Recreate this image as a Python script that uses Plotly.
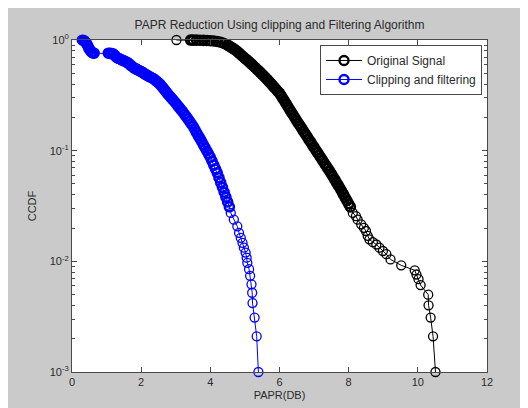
import plotly.graph_objects as go

# ---------------- data ----------------
orig_papr = [3.02, 3.43, 3.50, 3.60, 3.70, 3.80, 3.90, 4.00, 4.10, 4.20, 4.30, 4.40, 4.50,
             4.55, 4.60, 4.65, 4.70, 4.75, 4.80, 4.85, 4.90, 4.95, 5.00,
             5.05, 5.10, 5.15, 5.20, 5.25, 5.30, 5.35, 5.40, 5.45, 5.50,
             5.55, 5.60, 5.65, 5.70, 5.75, 5.80, 5.85, 5.90, 5.95, 6.00,
             6.05, 6.10, 6.15, 6.20, 6.25, 6.30, 6.35, 6.40, 6.45, 6.50,
             6.55, 6.60, 6.65, 6.70, 6.75, 6.80, 6.85, 6.90, 6.95, 7.00,
             7.05, 7.10, 7.15, 7.20, 7.25, 7.30, 7.35, 7.40, 7.45, 7.50,
             7.55, 7.60, 7.65, 7.70, 7.75, 7.80, 7.85, 7.90, 7.95, 8.00, 8.05,
             8.12, 8.21, 8.26, 8.36, 8.44, 8.50, 8.55, 8.60, 8.70, 8.80,
             8.89, 8.99, 9.09, 9.21, 9.52, 9.91, 9.96, 10.02, 10.08, 10.30,
             10.31, 10.37, 10.44, 10.51]
orig_ccdf = [1.0, 0.999, 0.998, 0.997, 0.995, 0.993, 0.990, 0.986, 0.980, 0.970, 0.955, 0.930, 0.900,
             0.881, 0.861, 0.841, 0.822, 0.800, 0.776, 0.752, 0.728, 0.706, 0.684,
             0.664, 0.643, 0.622, 0.603, 0.582, 0.562, 0.543, 0.525, 0.507, 0.490,
             0.472, 0.455, 0.438, 0.421, 0.405, 0.389, 0.373, 0.359, 0.344, 0.331,
             0.313, 0.295, 0.279, 0.263, 0.248, 0.234, 0.221, 0.209, 0.197, 0.186,
             0.176, 0.167, 0.158, 0.149, 0.141, 0.134, 0.126, 0.120, 0.113, 0.107,
             0.101, 0.0959, 0.0908, 0.0859, 0.0813, 0.0769, 0.0728, 0.0689, 0.0652, 0.0617,
             0.0581, 0.0547, 0.0515, 0.0485, 0.0457, 0.0429, 0.0402, 0.0377, 0.0353, 0.0331, 0.0310,
             0.0274, 0.0256, 0.0238, 0.0216, 0.0201, 0.0188, 0.0170, 0.0158, 0.0149, 0.0142,
             0.0133, 0.0124, 0.0116, 0.0104, 0.0092, 0.0083, 0.0076, 0.0069, 0.0061, 0.0050,
             0.0040, 0.0031, 0.0021, 0.0010]

clip_papr = [0.28, 0.32, 0.36, 0.40, 0.43, 0.46, 0.49, 0.52, 0.56, 0.60, 0.64,
             1.05, 1.10, 1.15, 1.20, 1.25, 1.30, 1.35, 1.40, 1.45, 1.50,
             1.55, 1.60, 1.65, 1.70, 1.75, 1.80, 1.85, 1.90, 1.95, 2.00,
             2.05, 2.10, 2.15, 2.20, 2.25, 2.30, 2.35, 2.40, 2.45, 2.50,
             2.55, 2.60, 2.65, 2.70, 2.75, 2.80, 2.85, 2.90, 2.95, 3.00,
             3.05, 3.10, 3.15, 3.20, 3.25, 3.30, 3.35, 3.40, 3.45, 3.50,
             3.55, 3.60, 3.65, 3.70, 3.75, 3.80, 3.85, 3.90, 3.95, 4.00,
             4.05, 4.10, 4.15, 4.20, 4.25, 4.30, 4.35, 4.40, 4.45, 4.50, 4.55,
             4.59, 4.68, 4.78, 4.83, 4.88, 4.93, 4.97, 5.02, 5.05, 5.07,
             5.12, 5.15, 5.19, 5.21, 5.22, 5.28, 5.34, 5.39]
clip_ccdf = [1.0, 0.995, 0.98, 0.95, 0.92, 0.88, 0.84, 0.81, 0.78, 0.765, 0.76,
             0.760, 0.757, 0.753, 0.746, 0.719, 0.692, 0.681, 0.670, 0.659, 0.649,
             0.638, 0.627, 0.608, 0.590, 0.573, 0.558, 0.548, 0.538, 0.528, 0.518,
             0.507, 0.495, 0.485, 0.474, 0.465, 0.456, 0.449, 0.436, 0.423, 0.410,
             0.398, 0.380, 0.363, 0.347, 0.331, 0.318, 0.305, 0.292, 0.281, 0.269,
             0.257, 0.246, 0.235, 0.225, 0.214, 0.204, 0.194, 0.184, 0.175, 0.166,
             0.156, 0.146, 0.137, 0.129, 0.121, 0.113, 0.106, 0.0993, 0.0931, 0.0871,
             0.0804, 0.0741, 0.0684, 0.0631, 0.0570, 0.0515, 0.0466, 0.0421, 0.0380, 0.0344, 0.0311,
             0.0274, 0.0238, 0.0207, 0.0181, 0.0163, 0.0147, 0.0133, 0.0120, 0.0108, 0.0097,
             0.0085, 0.0074, 0.0062, 0.0052, 0.0042, 0.0031, 0.0021, 0.0010]

x_ticks = [0, 2, 4, 6, 8, 10, 12]
y_ticks = [1, 0.1, 0.01, 0.001]
y_ticktext = ["10<sup>0</sup>", "10<sup>-1</sup>", "10<sup>-2</sup>", "10<sup>-3</sup>"]

# ---------------- figure ----------------
FONT = "Liberation Sans, Arial, sans-serif"
AXC = "#4a4a4a"
TXT = "#2a2a2a"


def ring_widths(values):
    # heavier rings where samples are packed into a dense band
    return [2.6 if 0.03 <= v < 1.0 else 1.3 for v in values]


fig = go.Figure()
fig.add_trace(go.Scatter(
    x=orig_papr, y=orig_ccdf, name="Original Signal", mode="lines+markers",
    line=dict(color="#000000", width=1),
    marker=dict(symbol="circle-open", size=9, color="#000000",
                line=dict(width=ring_widths(orig_ccdf))),
    cliponaxis=False))
fig.add_trace(go.Scatter(
    x=clip_papr, y=clip_ccdf, name="Clipping and filtering", mode="lines+markers",
    line=dict(color="#0000ff", width=1),
    marker=dict(symbol="circle-open", size=9, color="#0000ff",
                line=dict(width=ring_widths(clip_ccdf))),
    cliponaxis=False))

minor_vals = [m * 10.0 ** e for e in (-3, -2, -1) for m in range(2, 10)]

# the page places the figure 8px in from the top-left corner
W, H = 520, 400
fig.update_layout(
    width=W, height=H,
    margin=dict(l=64, r=41, t=32, b=36, autoexpand=False),
    paper_bgcolor="#cacaca", plot_bgcolor="#ffffff",
    font=dict(family=FONT, size=11, color=TXT),
    title=dict(text="PAPR Reduction Using clipping and Filtering Algorithm",
               x=0.5, xref="paper", xanchor="center",
               y=1 - 17 / H, yref="container", yanchor="middle",
               font=dict(family=FONT, size=12, color=TXT)),
    showlegend=True,
    legend=dict(x=0.988, y=0.985, xanchor="right", yanchor="top",
                bgcolor="#ffffff", bordercolor=AXC, borderwidth=1,
                font=dict(family=FONT, size=12, color=TXT),
                tracegroupgap=0, itemwidth=36),
    xaxis=dict(range=[0, 12], tickvals=x_ticks, ticks="inside", ticklen=5,
               tickcolor=AXC, showline=True, linecolor=AXC, linewidth=1,
               mirror="allticks", showgrid=False, zeroline=False,
               tickfont=dict(family=FONT, size=11, color=TXT),
               title=dict(text="PAPR(DB)", standoff=4,
                          font=dict(family=FONT, size=11, color=TXT))),
    yaxis=dict(type="log", range=[-3, 0], tickvals=y_ticks, ticktext=y_ticktext,
               ticks="inside", ticklen=5, tickcolor=AXC,
               showline=True, linecolor=AXC, linewidth=1,
               mirror="allticks", showgrid=False, zeroline=False,
               tickfont=dict(family=FONT, size=11, color=TXT),
               minor=dict(tickvals=minor_vals, ticks="inside", ticklen=3,
                          tickcolor=AXC, showgrid=False),
               title=dict(text="CCDF", standoff=10,
                          font=dict(family=FONT, size=11, color=TXT))),
)

fig.write_html("out.html")
